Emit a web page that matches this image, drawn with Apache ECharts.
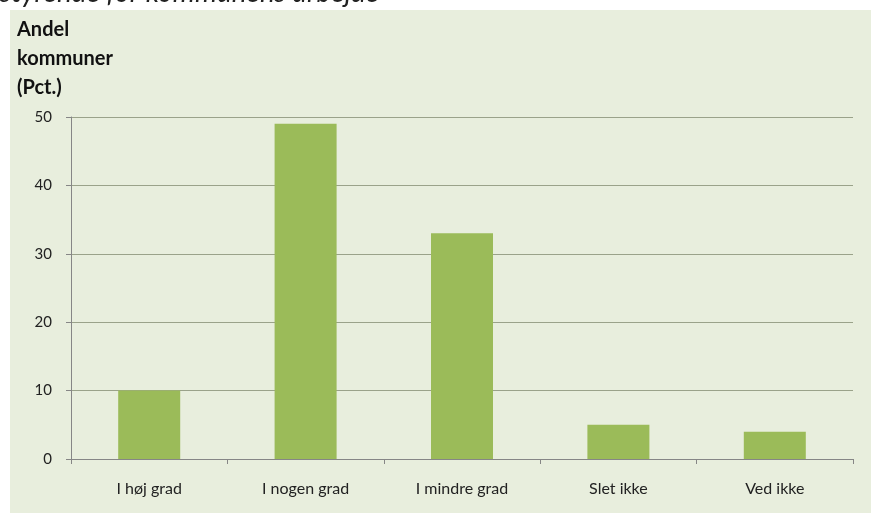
<!DOCTYPE html>
<html>
<head>
<meta charset="utf-8">
<script src="https://cdn.jsdelivr.net/npm/echarts@6/dist/echarts.min.js"></script>
<style>
  html, body { margin: 0; padding: 0; background: #ffffff; }
  #chart { width: 871px; height: 514px; }
</style>
</head>
<body>
<div id="chart"></div>
<script>
// data
const categories = ['I høj grad', 'I nogen grad', 'I mindre grad', 'Slet ikke', 'Ved ikke'];
const shares = [10, 49, 33, 5, 4];
const yTicks = [0, 10, 20, 30, 40, 50];

const chart = echarts.init(document.getElementById('chart'));

chart.setOption({
  backgroundColor: '#ffffff',
  animation: false,
  graphic: [
    {
      type: 'rect',
      z: -10,
      shape: { x: 10, y: 10, width: 861, height: 503 },
      style: { fill: '#e8eedd' }
    },
    {
      // title line above the panel, cut off by the top edge
      type: 'text',
      x: 0,
      y: 7,
      style: {
        text: 'styrende for kommunens arbejde',
        font: 'italic 28px Lato, sans-serif',
        verticalAlign: 'bottom',
        fill: '#222222'
      }
    },
    {
      type: 'text',
      x: 17,
      y: 15,
      style: {
        text: 'Andel\nkommuner\n(Pct.)',
        font: 'bold 20px Lato, sans-serif',
        lineHeight: 29,
        fill: '#111111'
      }
    }
  ],
  grid: { left: 71, right: 18, top: 117, bottom: 55 },
  xAxis: {
    type: 'category',
    data: categories,
    axisLine: { lineStyle: { color: '#868686' } },
    axisTick: { show: true, length: 5, lineStyle: { color: '#868686' } },
    axisLabel: { color: '#222222', fontFamily: 'Lato, sans-serif', fontSize: 16, margin: 22 }
  },
  yAxis: {
    type: 'value',
    min: yTicks[0],
    max: yTicks[yTicks.length - 1],
    interval: 10,
    axisLine: { show: true, lineStyle: { color: '#868686' } },
    axisTick: { show: true, length: 5, lineStyle: { color: '#868686' } },
    axisLabel: { color: '#222222', fontFamily: 'Lato, sans-serif', fontSize: 15, margin: 19 },
    splitLine: { lineStyle: { color: '#9aa28a' } }
  },
  series: [{
    type: 'bar',
    data: shares,
    barWidth: 62,
    itemStyle: { color: '#9bbb59' }
  }]
});
</script>
</body>
</html>
